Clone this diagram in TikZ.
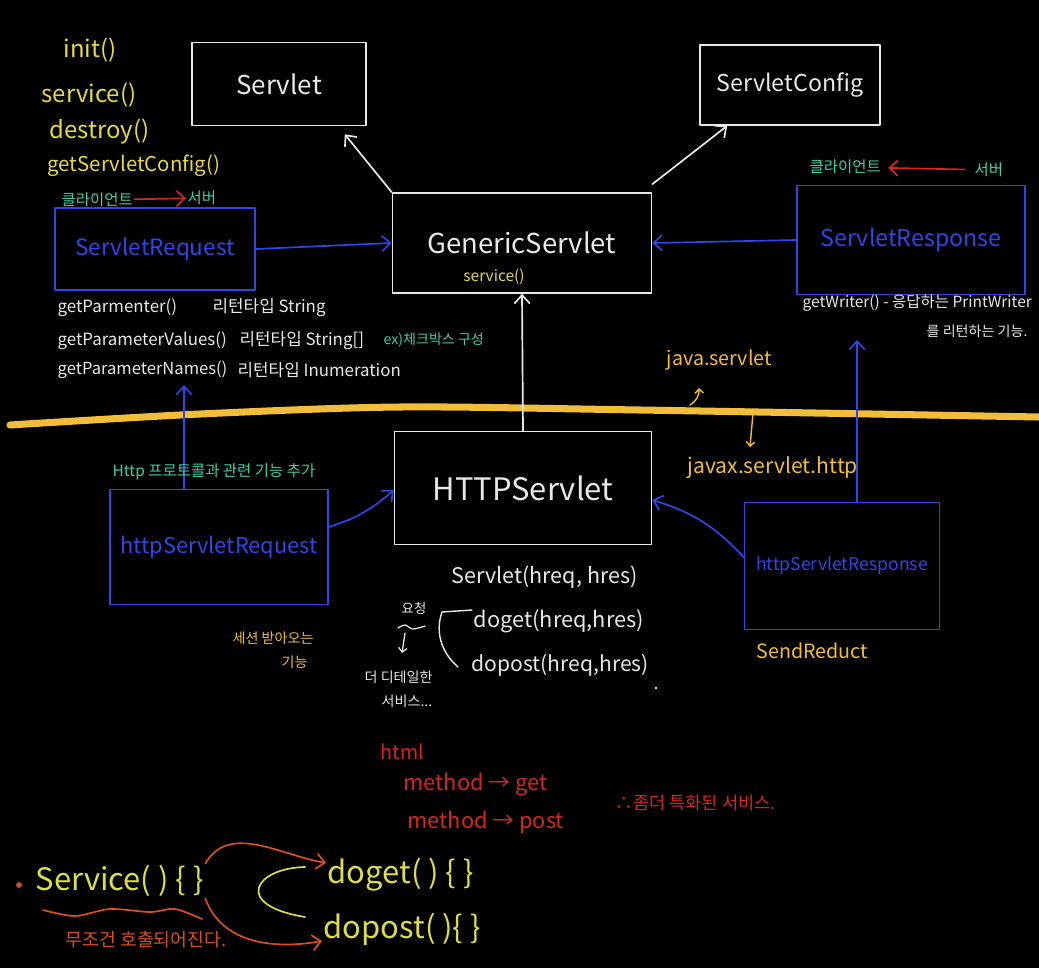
\documentclass[tikz,border=0pt]{standalone}
\usepackage{fontspec}
\setmainfont{Noto Sans CJK KR}
\usetikzlibrary{arrows.meta}
\definecolor{chalkwhite}{HTML}{E8E8E8}
\definecolor{chalkyellow}{HTML}{E6D84A}
\definecolor{chalkgold}{HTML}{F2BE3A}
\definecolor{chalkcyan}{HTML}{3CCFA8}
\definecolor{chalkblue}{HTML}{2F46E8}
\definecolor{chalkred}{HTML}{D6261E}
\definecolor{chalkorange}{HTML}{D9501E}
\definecolor{chalklime}{HTML}{DCDC4E}
\newcommand\fsz[1]{\fontsize{#1}{#1}\selectfont}

\begin{document}
\begin{tikzpicture}[x=0.025cm,y=-0.025cm,line cap=round,line join=round,
  >={Straight Barb[length=6pt,width=11pt]},
  every node/.style={inner sep=1pt},
  wbox/.style={draw=chalkwhite,line width=1.2pt,text=chalkwhite,inner sep=0pt},
  bbox/.style={draw=chalkblue,line width=1.2pt,text=chalkblue,inner sep=0pt},
  warrow/.style={draw=chalkwhite,line width=1.2pt,->},
  barrow/.style={draw=chalkblue,line width=1.2pt,->},
  rarrow/.style={draw=chalkred,line width=1.2pt,->},
  tinytip/.style={-{Straight Barb[length=3pt,width=6pt]}},
  wtxt/.style={text=chalkwhite,anchor=west},
  ytxt/.style={text=chalkyellow,anchor=west},
  gtxt/.style={text=chalkgold,anchor=west},
  ctxt/.style={text=chalkcyan,anchor=west},
  rtxt/.style={text=chalkred,anchor=west},
  otxt/.style={text=chalkorange,anchor=west},
  ltxt/.style={text=chalklime,anchor=west}]
  \def\pxl{0.025cm}
  \fill[black] (0,0) rectangle (1039,968);
  \useasboundingbox (0,0) rectangle (1039,968);

  % java.servlet side
  \node[wbox,minimum width=174*\pxl,minimum height=83*\pxl,font=\fsz{18.5}] (serv) at (279,84) {Servlet};
  \node[wbox,minimum width=180*\pxl,minimum height=80*\pxl,font=\fsz{16.5}] (conf) at (790,85) {ServletConfig};
  \node[wbox,minimum width=259*\pxl,minimum height=100*\pxl,font=\fsz{19.5}] (gen) at (522,243) {GenericServlet};
  \node[text=chalkyellow,font=\fsz{11}] (gensvc) at (494,277) {service()};
  \node[bbox,minimum width=200*\pxl,minimum height=82*\pxl,font=\fsz{16}] (req) at (155,249) {ServletRequest};
  \node[bbox,minimum width=228*\pxl,minimum height=109*\pxl,font=\fsz{16.5}] (resp) at (911,240) {ServletResponse};

  \draw[warrow] (gen.north west) -- ([xshift=-0.55cm,yshift=-0.2cm]serv.south east);
  \draw[warrow] ([yshift=0.2cm]gen.north east) -- ([xshift=0.7cm]conf.south west);
  \draw[barrow] (req.east) -- (gen.west);
  \draw[barrow] (resp.west) -- (gen.east);

  \node[ytxt,font=\fsz{17}] (minit) at (62,50) {init()};
  \node[ytxt,font=\fsz{17}] (msvc) at (40,95) {service()};
  \node[ytxt,font=\fsz{17}] (mdes) at (48,132) {destroy()};
  \node[ytxt,font=\fsz{14.5}] (mcfg) at (46,166) {getServletConfig()};

  \node[ctxt,font=\fsz{11}] (cli1) at (60,200) {클라이언트};
  \node[ctxt,font=\fsz{11}] (srv1) at (186,198) {서버};
  \draw[rarrow] (cli1) -- (srv1);
  \node[ctxt,font=\fsz{11}] (cli2) at (808,167) {클라이언트};
  \node[ctxt,font=\fsz{11}] (srv2) at (973,170) {서버};
  \draw[rarrow,shorten <=6pt,shorten >=4pt] (srv2) -- (cli2);

  \node[wtxt,font=\fsz{12}] (gp1) at (56,308) {getParmenter()};
  \node[wtxt,font=\fsz{12}] (gp1t) at (211,308) {리턴타입 String};
  \node[wtxt,font=\fsz{12}] (gp2) at (56,341) {getParameterValues()};
  \node[wtxt,font=\fsz{12}] (gp2t) at (238,341) {리턴타입 String[]};
  \node[ctxt,font=\fsz{10}] (gp2e) at (382,340) {ex)체크박스 구성};
  \node[wtxt,font=\fsz{11.8}] (gp3) at (56,370) {getParameterNames()};
  \node[wtxt,font=\fsz{12}] (gp3t) at (236,370) {리턴타입 Inumeration};

  \node[wtxt,font=\fsz{11}] (gw1) at (801,303) {getWriter() - 응답하는 PrintWriter};
  \node[wtxt,font=\fsz{10}] (gw2) at (925,331) {를 리턴하는 기능.};

  % package border
  \draw[chalkgold,line width=5pt] plot[smooth] coordinates {(10,425) (200,414) (400,407) (640,410) (1039,417)};
  \node[gtxt,font=\fsz{14}] (jpkg) at (665,360) {java.servlet};
  \coordinate (hk1) at (690,405);
  \coordinate (hk2) at (699,388);
  \draw[chalkgold,line width=1pt,tinytip] (hk1) to[bend right=30] (hk2);
  \coordinate (dn1) at (753,413);
  \coordinate (dn2) at (750,447);
  \draw[chalkgold,line width=1pt,tinytip] (dn1) -- (dn2);
  \node[gtxt,font=\fsz{15}] (jxpkg) at (686,468) {javax.servlet.http};

  % javax.servlet.http side
  \node[wbox,minimum width=257*\pxl,minimum height=113*\pxl,font=\fsz{22}] (hsv) at (523,488) {HTTPServlet};
  \node[bbox,minimum width=218*\pxl,minimum height=115*\pxl,font=\fsz{15.5}] (hreq) at (219,547) {httpServletRequest};
  \node[bbox,minimum width=195*\pxl,minimum height=127*\pxl,font=\fsz{12.5}] (hresp) at (842,566) {httpServletResponse};

  \draw[warrow] (hsv.north) -- (gen.south);
  \coordinate (reqtip) at (184,385);
  \coordinate (resptip) at (857,340);
  \draw[barrow] (hreq.north -| reqtip) -- (reqtip);
  \draw[barrow] (hresp.north -| resptip) -- (resptip);
  \draw[barrow] ([yshift=0.5cm]hreq.east) to[bend right=12] ([yshift=-0.05cm]hsv.west);
  \draw[barrow] ([yshift=0.22cm]hresp.west) to[bend right=15] ([yshift=-0.3cm]hsv.east);

  \node[ctxt,font=\fsz{11}] (hadd) at (111,472) {Http 프로토콜과 관련 기능 추가};
  \node[gtxt,font=\fsz{10}] (sess1) at (231,638) {세션 받아오는};
  \node[gtxt,font=\fsz{10}] (sess2) at (280,662) {기능};
  \node[gtxt,font=\fsz{14}] (sredir) at (755,651) {SendReduct};

  \node[wtxt,font=\fsz{15.3}] (hsvc) at (450,577) {Servlet(hreq, hres)};
  \node[wtxt,font=\fsz{15.5}] (hget) at (472,621) {doget(hreq,hres)};
  \node[wtxt,font=\fsz{15}] (hpost) at (470,665) {dopost(hreq,hres)};
  \draw[chalkwhite,line width=1pt] (472,610) -- (442,612) .. controls (434,635) and (444,655) .. (458,667);
  \node[text=chalkwhite,font=\fsz{9.5}] (yoch) at (414,608) {요청};
  \draw[chalkwhite,line width=0.9pt] plot[smooth] coordinates {(398,628) (405,625) (413,629) (425,626)};
  \coordinate (ya1) at (405,633);
  \coordinate (ya2) at (402,653);
  \draw[chalkwhite,line width=0.9pt,tinytip] (ya1) -- (ya2);
  \node[wtxt,font=\fsz{10}] (detail1) at (363,677) {더 디테일한};
  \node[wtxt,font=\fsz{10}] (detail2) at (380,701) {서비스...};
  \fill[chalkwhite] (656,688) circle[radius=1pt];

  % html method
  \node[rtxt,font=\fsz{14}] (html) at (379,752) {html};
  \node[rtxt,font=\fsz{15.5}] (mget) at (402,785) {method → get};
  \node[rtxt,font=\fsz{15.5}] (mpost) at (406,822) {method → post};
  \node[rtxt,font=\fsz{12.5}] (spec) at (614,803) {∴좀더 특화된 서비스.};

  % service() dispatch
  \fill[chalkorange] (19,885) circle[radius=2pt];
  \node[ltxt,font=\fsz{22}] (bsvc) at (34,881) {Service( ) \{ \}};
  \node[ltxt,font=\fsz{22}] (bget) at (326,875) {doget( ) \{ \}};
  \node[ltxt,font=\fsz{22}] (bpost) at (322,929) {dopost( )\{ \}};
  \draw[chalkorange,line width=1.2pt] plot[smooth] coordinates {(43,910) (75,916) (110,909) (150,912) (175,909) (202,919)};
  \node[otxt,font=\fsz{13}] (always) at (64,940) {무조건 호출되어진다.};
  \draw[rarrow,draw=chalkorange] (bsvc.north east) to[out=60,in=170] ([yshift=0.3cm]bget.west);
  \draw[rarrow,draw=chalkorange] (bsvc.south east) to[out=-70,in=190] ([yshift=-0.3cm]bpost.west);
  \draw[chalklime,line width=1.2pt] (305,867) .. controls (255,868) and (232,905) .. (305,917);
\end{tikzpicture}
\end{document}
